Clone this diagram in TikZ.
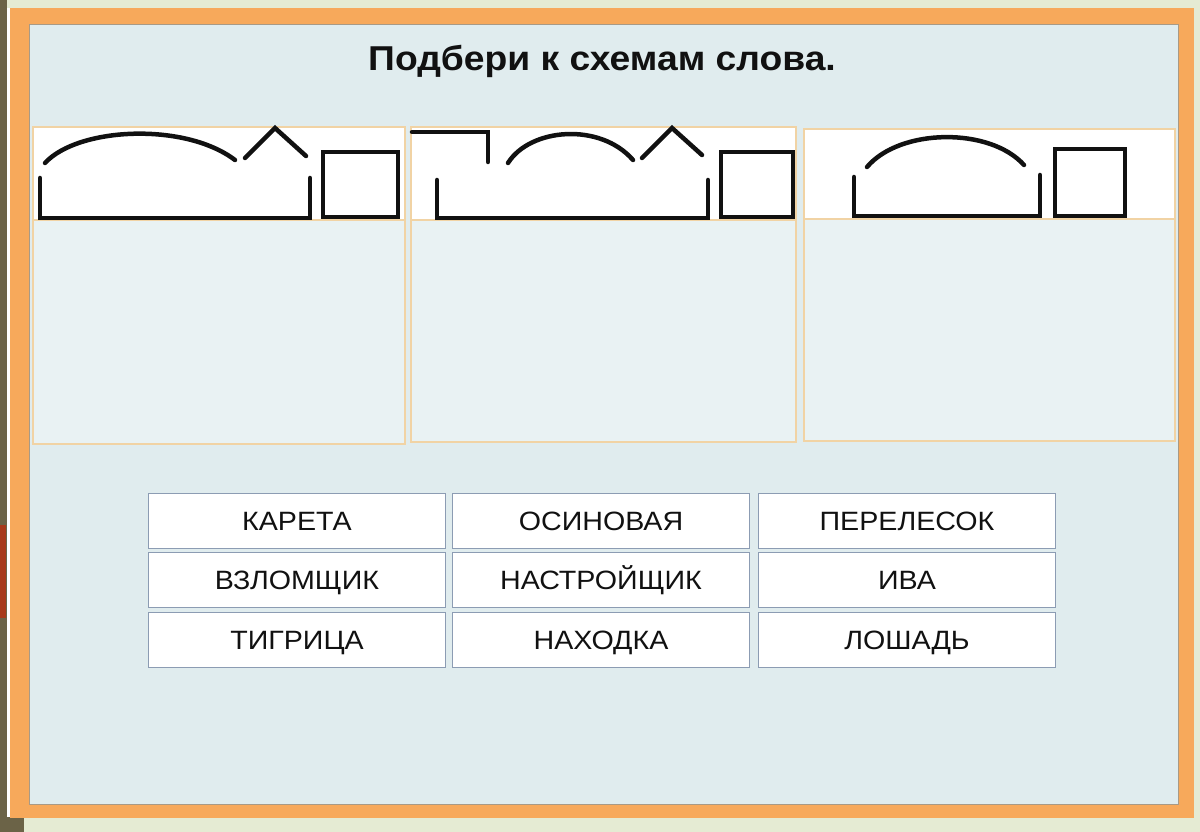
\documentclass[tikz,border=0pt]{standalone}
\usepackage{fontspec}
\setmainfont{Liberation Sans}
\newfontfamily\widesans[FakeStretch=1.08]{Liberation Sans}
\definecolor{pagebg}{HTML}{E5EBD3}
\definecolor{olive}{HTML}{6B6347}
\definecolor{rustred}{HTML}{A83A1B}
\definecolor{frameorange}{HTML}{F7A95B}
\definecolor{slidebg}{HTML}{E0ECEE}
\definecolor{slideline}{HTML}{A89A86}
\definecolor{panelline}{HTML}{F1D3A4}
\definecolor{boxline}{HTML}{8C9CB3}
\definecolor{inkblack}{HTML}{111111}
\begin{document}
\begin{tikzpicture}[x=1pt,y=-1pt,
  scheme/.style={draw=inkblack,line width=4.5pt,line cap=round},
  panel/.style={draw=panelline,line width=1.5pt},
  wordbox/.style={draw=boxline,line width=1.5pt,fill=white,minimum width=297pt,
    minimum height=55pt,inner sep=0pt,text height=19pt,text depth=0pt,
    text=inkblack,font=\widesans\fontsize{26.5}{30}\selectfont}]
\useasboundingbox (0,0) rectangle (1200,832);
% frame and slide
\fill[pagebg] (0,0) rectangle (1200,832);
\fill[olive] (0,0) rectangle (7,817);
\fill[olive] (0,817) rectangle (24,832);
\fill[rustred] (0,525) rectangle (6,618);
\fill[white] (7,8) rectangle (10,817);
\fill[frameorange] (10,8) rectangle (1194,818);
\filldraw[color=slideline, fill=slidebg, line width=0.8pt] (29,24) rectangle (1178,804);
% three scheme panels
\filldraw[panel, fill=white!30!slidebg] (33,127) rectangle (405,444);
\filldraw[panel, fill=white] (33,127) rectangle (405,220);
\filldraw[panel, fill=white!30!slidebg] (411,127) rectangle (796,442);
\filldraw[panel, fill=white] (411,127) rectangle (796,220);
\filldraw[panel, fill=white!30!slidebg] (804,129) rectangle (1175,441);
\filldraw[panel, fill=white] (804,129) rectangle (1175,219);
% scheme 1: root, suffix, ending
\draw[scheme] (45,163) .. controls (78,127) and (185,122) .. (235,160);
\draw[scheme] (245,158) -- (275,128) -- (306,156);
\draw[scheme] (40,178) -- (40,218) -- (310,218) -- (310,178);
\draw[scheme] (323,152) rectangle (398,217);
% scheme 2: prefix, root, suffix, ending
\draw[scheme] (412,132) -- (488,132) -- (488,162);
\draw[scheme] (508,163) .. controls (530,128) and (600,122) .. (633,160);
\draw[scheme] (642,158) -- (672,128) -- (702,155);
\draw[scheme] (437,180) -- (437,218) -- (708,218) -- (708,180);
\draw[scheme] (721,152) rectangle (793,217);
% scheme 3: root, ending
\draw[scheme] (867,167) .. controls (900,128) and (990,127) .. (1024,165);
\draw[scheme] (854,177) -- (854,216) -- (1040,216) -- (1040,175);
\draw[scheme] (1055,149) rectangle (1125,216);
% title
\node[font=\widesans\bfseries\fontsize{34.5}{40}\selectfont, text=inkblack] (title) at (602,61) {Подбери к схемам слова.};
% words
\node[wordbox] (karet) at (297,521) {КАРЕТА};
\node[wordbox] (osin) at (601,521) {ОСИНОВАЯ};
\node[wordbox] (perel) at (907,521) {ПЕРЕЛЕСОК};
\node[wordbox] (vzlom) at (297,580) {ВЗЛОМЩИК};
\node[wordbox] (nastr) at (601,580) {НАСТРОЙЩИК};
\node[wordbox] (iva) at (907,580) {ИВА};
\node[wordbox] (tigr) at (297,640) {ТИГРИЦА};
\node[wordbox] (nahod) at (601,640) {НАХОДКА};
\node[wordbox] (loshad) at (907,640) {ЛОШАДЬ};
\end{tikzpicture}
\end{document}
